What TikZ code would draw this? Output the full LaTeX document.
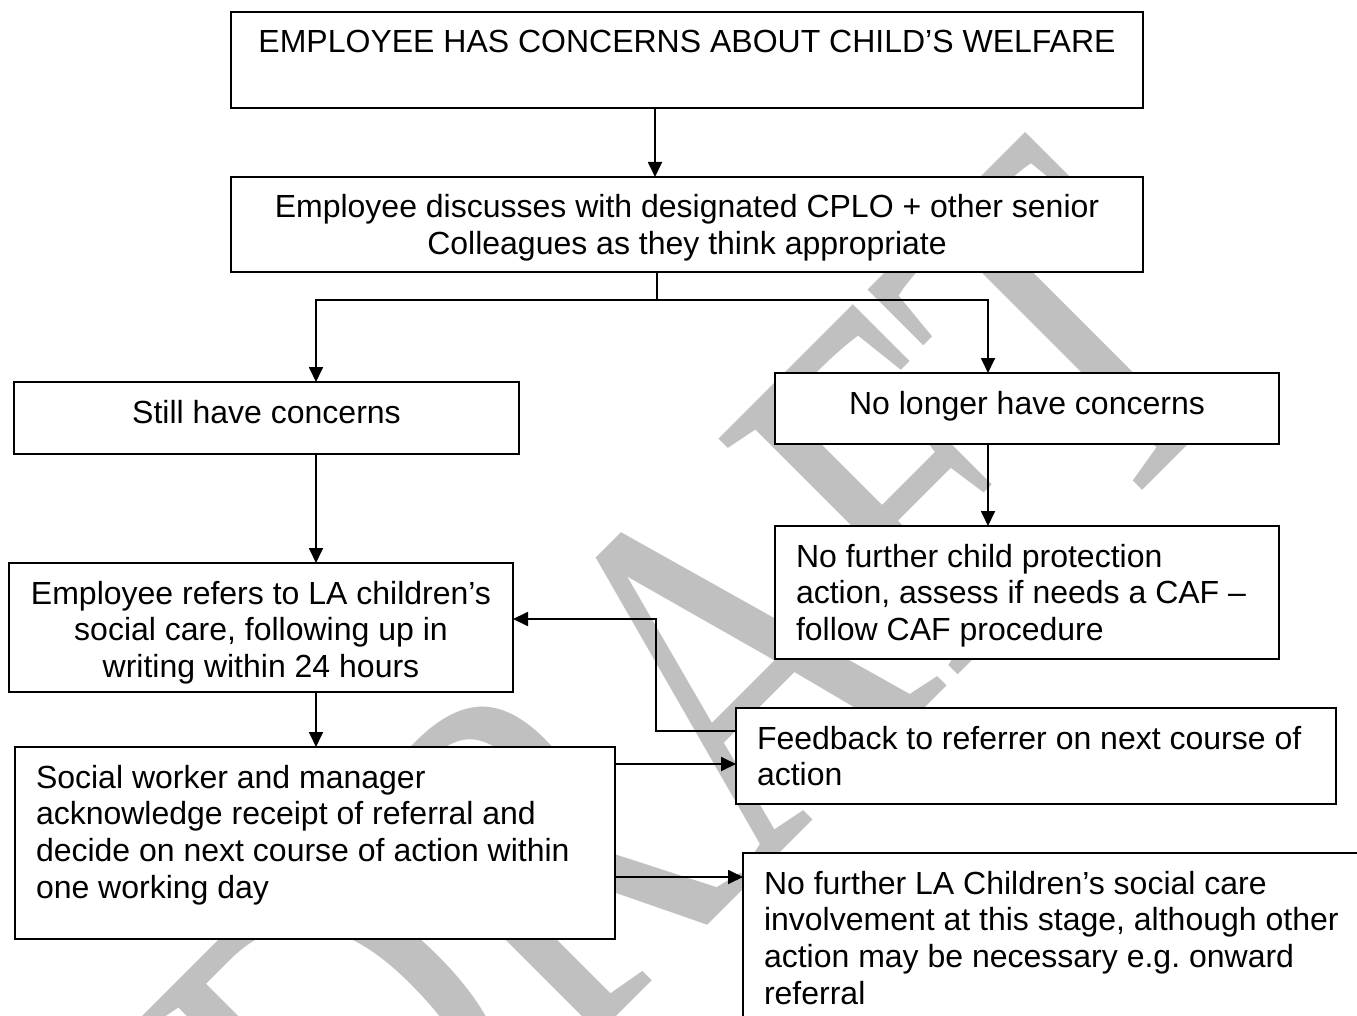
\documentclass[tikz,border=0pt]{standalone}
\usepackage{fontspec}
\setmainfont{Liberation Sans}
\newfontfamily\wmfont{Liberation Serif}
\usetikzlibrary{arrows.meta}
\definecolor{wmgray}{HTML}{C0C0C0}
\frenchspacing
\tikzset{
  box/.style={draw, line width=1.8pt, fill=white, inner xsep=21pt, inner ysep=0pt, outer sep=0pt, anchor=north west},
  conn/.style={line width=1.8pt, -{Triangle[length=15pt,width=14pt]}},
  plainline/.style={line width=1.8pt},
  watermark/.style={text=wmgray, inner sep=0pt, outer sep=0pt, font=\wmfont\fontsize{387}{387}\selectfont},
}
\newcommand{\bxc}[3]{\parbox[t][#2][t]{#1}{\centering\rule{0pt}{41pt}#3}}
\newcommand{\bxl}[3]{\parbox[t][#2][t]{#1}{\raggedright\rule{0pt}{41pt}#3}}
\begin{document}
\begin{tikzpicture}[x=1pt,y=-1pt,every node/.style={font=\fontsize{32}{36.8}\selectfont}]
\useasboundingbox (0,0) rectangle (1357,1016);
\fill[white] (0,0) rectangle (1357,1016);
% watermark
\node[watermark, anchor=base west, rotate=45, yscale=1.3256] (wm) at (371,1262) {DRAFT};
% boxes
\node[box] (b1) at (231,12) {\bxc{870pt}{96pt}{EMPLOYEE HAS CONCERNS ABOUT CHILD’S WELFARE}};
\node[box] (b2) at (231,177) {\bxc{870pt}{95pt}{Employee discusses with designated CPLO + other senior\\Colleagues as they think appropriate}};
\node[box] (b3) at (14,382) {\bxc{463pt}{72pt}{Still have concerns}};
\node[box] (b4) at (775,373) {\bxc{462pt}{71pt}{No longer have concerns}};
\node[box] (b5) at (775,526) {\bxl{462pt}{133pt}{No further child protection\\action, assess if needs a CAF –\\follow CAF procedure}};
\node[box] (b6) at (9,563) {\bxc{462pt}{129pt}{Employee refers to LA children’s\\social care, following up in\\writing within 24 hours}};
\node[box] (b7) at (15,747) {\bxl{558pt}{192pt}{Social worker and manager\\acknowledge receipt of referral and\\decide on next course of action within\\one working day}};
\node[box] (b8) at (736,708) {\bxl{558pt}{96pt}{Feedback to referrer on next course of\\action}};
\node[box] (b9) at (743,853) {\bxl{608pt}{200pt}{No further LA Children’s social care\\involvement at this stage, although other\\action may be necessary e.g. onward\\referral}};
% helper coordinates
\coordinate (x655) at (655,0);
\coordinate (j) at (657,300);
\coordinate (xL) at (316,0);
\coordinate (xR) at (988,0);
\coordinate (x656) at (656,0);
\coordinate (y764) at (0,764);
\coordinate (y877) at (0,877);
\coordinate (y731) at (0,731);
\coordinate (y619) at (0,619);
% connectors
\draw[conn] (b1.south -| x655) -- (b2.north -| x655);
\draw[plainline] (b2.south -| j) -- (j);
\draw[conn] (j) -| (xL |- b3.north);
\draw[conn] (j) -| (xR |- b4.north);
\draw[conn] (b3.south -| xL) -- (b6.north -| xL);
\draw[conn] (b4.south -| xR) -- (b5.north -| xR);
\draw[conn] (b6.south -| xL) -- (b7.north -| xL);
\draw[conn] (b7.east |- y764) -- (b8.west |- y764);
\draw[conn] (b7.east |- y877) -- (b9.west |- y877);
\draw[conn] (b8.west |- y731) -| (x656 |- y619) -- (b6.east |- y619);
\end{tikzpicture}
\end{document}
